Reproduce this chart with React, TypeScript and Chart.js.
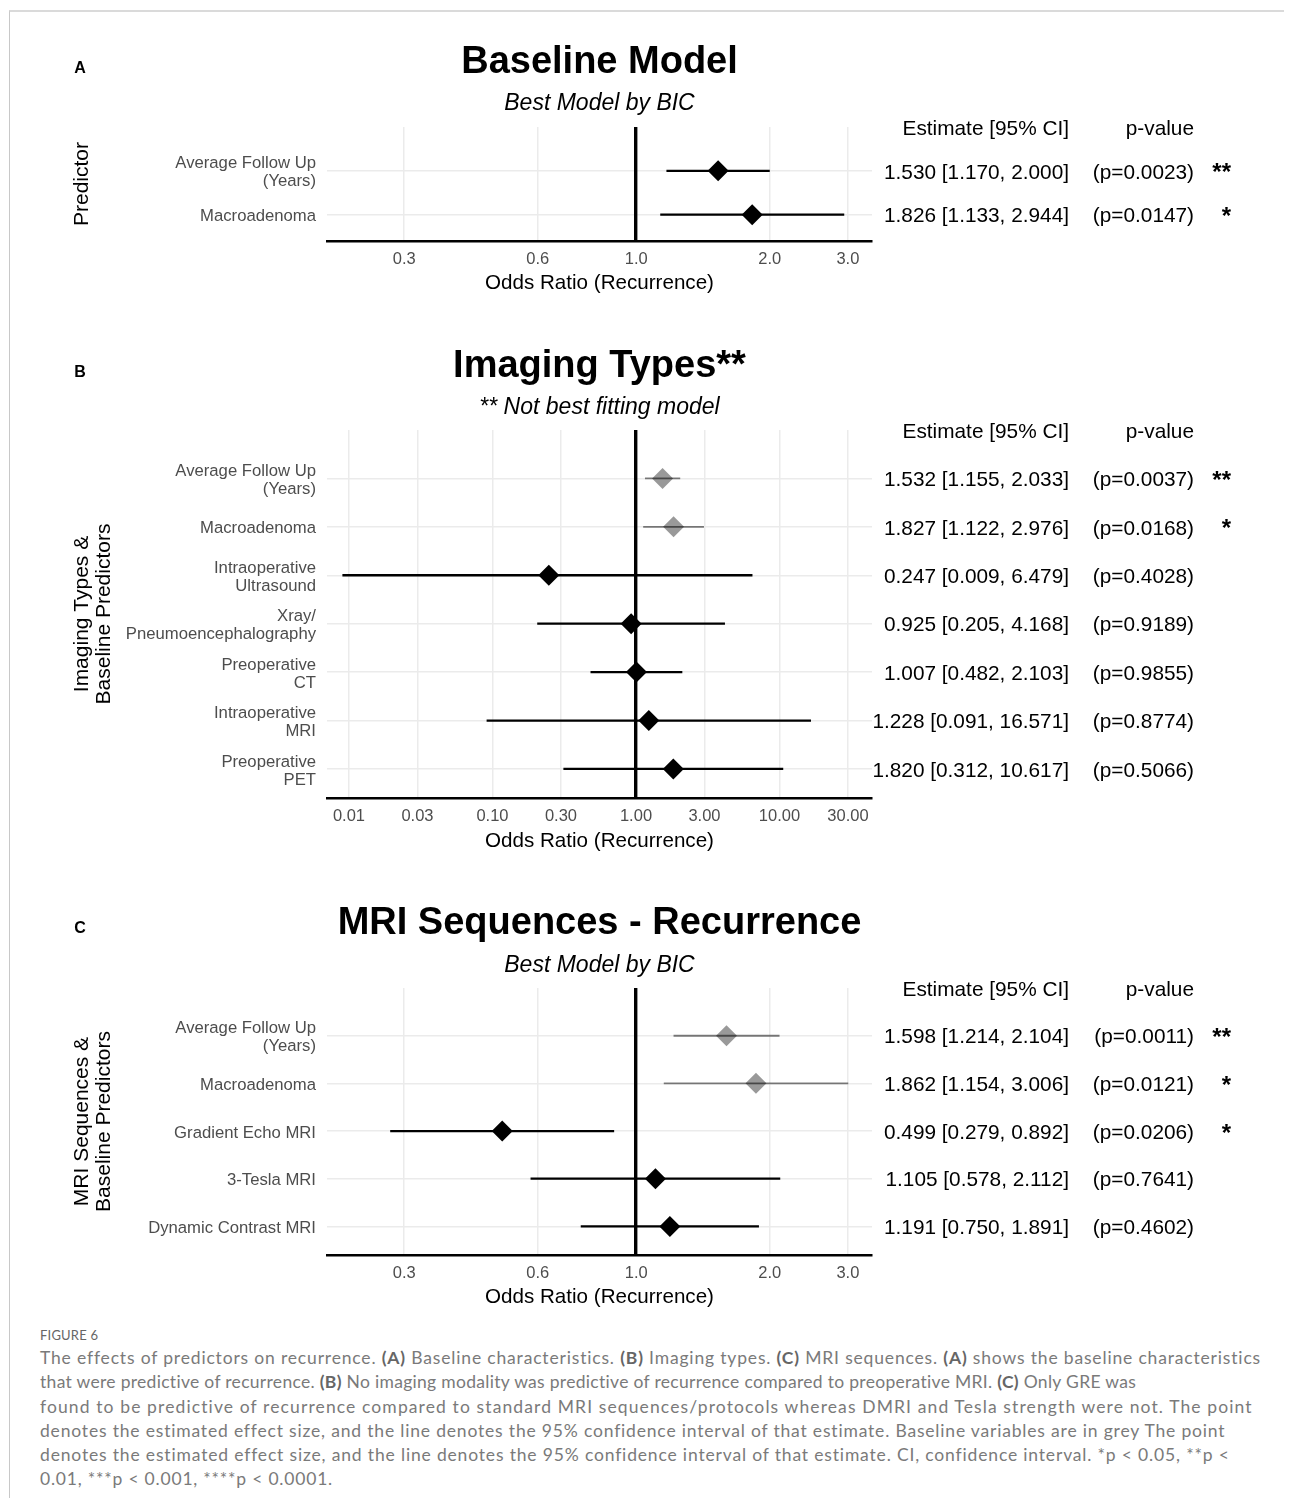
import React, { useEffect, useLayoutEffect, useRef } from "react";
import { Chart, registerables } from "chart.js";

Chart.register(...registerables);

const FONT = "'Liberation Sans', Arial, Helvetica, sans-serif";

// ---------- Panel A : Baseline Model ----------
const predictorsA = ["Average Follow Up\n(Years)", "Macroadenoma"];
const estimateA = [1.53, 1.826];
const lowerA = [1.17, 1.133];
const upperA = [2.0, 2.944];
const pValueA = [0.0023, 0.0147];
const baselineA = [false, false];
const xTicksA = [0.3, 0.6, 1.0, 2.0, 3.0];

// ---------- Panel B : Imaging Types ----------
const predictorsB = [
  "Average Follow Up\n(Years)",
  "Macroadenoma",
  "Intraoperative\nUltrasound",
  "Xray/\nPneumoencephalography",
  "Preoperative\nCT",
  "Intraoperative\nMRI",
  "Preoperative\nPET",
];
const estimateB = [1.532, 1.827, 0.247, 0.925, 1.007, 1.228, 1.82];
const lowerB = [1.155, 1.122, 0.009, 0.205, 0.482, 0.091, 0.312];
const upperB = [2.033, 2.976, 6.479, 4.168, 2.103, 16.571, 10.617];
const pValueB = [0.0037, 0.0168, 0.4028, 0.9189, 0.9855, 0.8774, 0.5066];
const baselineB = [true, true, false, false, false, false, false];
const xTicksB = [0.01, 0.03, 0.1, 0.3, 1, 3, 10, 30];

// ---------- Panel C : MRI Sequences ----------
const predictorsC = [
  "Average Follow Up\n(Years)",
  "Macroadenoma",
  "Gradient Echo MRI",
  "3-Tesla MRI",
  "Dynamic Contrast MRI",
];
const estimateC = [1.598, 1.862, 0.499, 1.105, 1.191];
const lowerC = [1.214, 1.154, 0.279, 0.578, 0.75];
const upperC = [2.104, 3.006, 0.892, 2.112, 1.891];
const pValueC = [0.0011, 0.0121, 0.0206, 0.7641, 0.4602];
const baselineC = [true, true, false, false, false];
const xTicksC = [0.3, 0.6, 1.0, 2.0, 3.0];

const CANVAS_W = 1284; // page x 8 .. 1292
const ORIGIN = 8;

type PanelProps = {
  letter: string;
  title: string;
  subtitle: string;
  yTitle: string | string[];
  predictors: string[];
  estimate: number[];
  lower: number[];
  upper: number[];
  pValue: number[];
  baseline: boolean[];
  xTicks: number[];
  xDecimals: number;
  xMin: number;
  xMax: number;
  // layout, page coordinates
  top: number;
  height: number;
  titleY: number;
  subY: number;
  areaTop: number;
  areaBottom: number;
  xTitleY: number;
  letterY: number;
};

const AREA_LEFT = 327;
const AREA_RIGHT = 872;

function stars(p: number) {
  if (p < 0.0001) return "****";
  if (p < 0.001) return "***";
  if (p < 0.01) return "**";
  if (p < 0.05) return "*";
  return "";
}

function ForestPanel(props: PanelProps) {
  const ref = useRef<HTMLCanvasElement | null>(null);

  useEffect(() => {
    const p = props;
    const n = p.predictors.length;
    const grey = (i: number) => p.baseline[i];

    const ciSets = p.predictors.map((_, i) => ({
      data: [
        { x: p.lower[i], y: i + 1 },
        { x: p.upper[i], y: i + 1 },
      ],
      showLine: true,
      borderColor: grey(i) ? "rgba(0,0,0,0.5)" : "#000000",
      borderWidth: grey(i) ? 1.9 : 2.3,
      pointRadius: 0,
      order: 0,
    }));

    const pointSet = {
      data: p.estimate.map((v, i) => ({ x: v, y: i + 1 })),
      pointStyle: "rectRot",
      pointRadius: 10.5,
      pointBorderWidth: 0,
      pointBackgroundColor: p.estimate.map((_, i) => (grey(i) ? "rgba(0,0,0,0.4)" : "#000000")),
      pointBorderColor: "rgba(0,0,0,0)",
      showLine: false,
      order: 1,
    };

    const titleLH = 38;
    const subLH = 23;
    const xTitleLH = 20.6 * 1.2;
    const xAxisH = p.top + p.height - p.areaBottom;
    const TXT = 2; // canvas "middle" sits a little above the cap centre

    const tablePlugin = {
      id: "tableText",
      afterDraw(chart: any) {
        const ctx = chart.ctx;
        const ys = chart.scales.y;
        const xEst = 1069 - ORIGIN;
        const xP = 1194 - ORIGIN;
        const xS = 1231 - ORIGIN;
        ctx.save();
        ctx.fillStyle = "#000";
        ctx.textAlign = "right";
        ctx.textBaseline = "middle";
        ctx.font = `20.8px ${FONT}`;
        const hy = chart.chartArea.top + 0.5 + TXT;
        ctx.fillText("Estimate [95% CI]", xEst, hy);
        ctx.fillText("p-value", xP, hy);
        for (let i = 0; i < n; i++) {
          const y = ys.getPixelForValue(i + 1) + TXT;
          ctx.font = `20.8px ${FONT}`;
          const est = `${p.estimate[i].toFixed(3)} [${p.lower[i].toFixed(3)}, ${p.upper[i].toFixed(3)}]`;
          ctx.fillText(est, xEst, y);
          ctx.fillText(`(p=${p.pValue[i].toFixed(4)})`, xP, y);
          const s = stars(p.pValue[i]);
          if (s) {
            ctx.font = `bold 24px ${FONT}`;
            ctx.fillText(s, xS, y + 1);
          }
        }
        // panel letter
        ctx.textAlign = "center";
        ctx.font = `bold 16px ${FONT}`;
        ctx.fillText(p.letter, 80 - ORIGIN, p.letterY - p.top + TXT);
        ctx.restore();
      },
    };

    const cfg: any = {
      type: "scatter",
      data: { datasets: [...ciSets, pointSet] },
      options: {
        animation: false,
        responsive: false,
        devicePixelRatio: 1,
        events: [],
        layout: {
          autoPadding: false,
          padding: { left: 0, top: 0, bottom: 0, right: CANVAS_W - (AREA_RIGHT - ORIGIN) },
        },
        plugins: {
          legend: { display: false },
          tooltip: { enabled: false },
          title: {
            display: true,
            text: p.title,
            fullSize: false,
            color: "#000",
            font: { family: FONT, size: 38, weight: "bold", lineHeight: 1 },
            padding: { top: p.titleY - p.top - titleLH / 2 + 3, bottom: 0 },
          },
          subtitle: {
            display: true,
            text: p.subtitle,
            fullSize: false,
            color: "#000",
            font: { family: FONT, size: 23, style: "italic", lineHeight: 1 },
            padding: {
              top: p.subY - p.titleY - titleLH / 2 - subLH / 2 - 1,
              bottom: p.areaTop - p.subY - subLH / 2 - 2,
            },
          },
        },
        scales: {
          x: {
            type: "logarithmic",
            position: "bottom",
            min: p.xMin,
            max: p.xMax,
            afterBuildTicks: (s: any) => {
              s.ticks = p.xTicks.map((v) => ({ value: v }));
            },
            afterFit: (s: any) => {
              s.height = xAxisH;
            },
            ticks: {
              autoSkip: false,
              maxRotation: 0,
              minRotation: 0,
              padding: 9,
              color: "#4d4d4d",
              font: { family: FONT, size: 16.5, lineHeight: 1.2 },
              callback: (v: any) => Number(v).toFixed(p.xDecimals),
            },
            grid: {
              drawTicks: false,
              z: -1,
              color: (c: any) => (c.tick && c.tick.value === 1 ? "#000000" : "#ebebeb"),
              lineWidth: (c: any) => (c.tick && c.tick.value === 1 ? 3.4 : 1.5),
            },
            border: { display: true, color: "#000", width: 2.4 },
            title: {
              display: true,
              text: "Odds Ratio (Recurrence)",
              color: "#000",
              font: { family: FONT, size: 20.6, lineHeight: 1.2 },
              padding: { top: 0, bottom: p.top + p.height - xTitleLH / 2 - p.xTitleY - 1.5 },
            },
          },
          y: {
            type: "linear",
            position: "left",
            reverse: true,
            min: 0,
            max: n + 0.6,
            afterBuildTicks: (s: any) => {
              s.ticks = p.predictors.map((_, i) => ({ value: i + 1 }));
            },
            afterFit: (s: any) => {
              s.width = AREA_LEFT - ORIGIN;
            },
            ticks: {
              autoSkip: false,
              padding: 11,
              labelOffset: 2,
              color: "#4d4d4d",
              font: { family: FONT, size: 16.7, lineHeight: 1.08 },
              callback: (v: any) => {
                const lab = p.predictors[Math.round(Number(v)) - 1];
                return lab ? lab.split("\n") : "";
              },
            },
            grid: { drawTicks: false, z: -2, color: "#ebebeb", lineWidth: 1.5 },
            border: { display: false },
            title: {
              display: true,
              text: p.yTitle,
              color: "#000",
              font: { family: FONT, size: 21, lineHeight: 1.05 },
              padding: { top: 81 - ORIGIN - 11.025 + 1, bottom: 0 },
            },
          },
        },
      },
      plugins: [tablePlugin],
    };

    const chart = new Chart(ref.current as HTMLCanvasElement, cfg);
    return () => chart.destroy();
  }, []);

  return (
    <canvas
      ref={ref}
      width={CANVAS_W}
      height={props.height}
      style={{ position: "absolute", left: 0, top: props.top - ORIGIN, width: CANVAS_W, height: props.height }}
    />
  );
}

const bold = { fontWeight: 700, color: "#666" } as const;

// One caption line, spread by letter-spacing to the width it has in the figure.
function CaptionLine({ target, children }: { target: number; children: React.ReactNode }) {
  const ref = useRef<HTMLSpanElement | null>(null);
  useLayoutEffect(() => {
    const el = ref.current;
    if (!el) return;
    el.style.letterSpacing = "0px";
    const w = el.getBoundingClientRect().width;
    const chars = (el.textContent || "").length;
    if (chars > 1) el.style.letterSpacing = `${(target - w) / chars}px`;
  }, [target]);
  return (
    <div>
      <span ref={ref} style={{ display: "inline-block", whiteSpace: "nowrap" }}>
        {children}
      </span>
    </div>
  );
}

export default function App() {
  return (
    <div style={{ position: "relative", width: CANVAS_W, height: 1490, overflow: "hidden", background: "#fff" }}>
      <div
        style={{
          position: "absolute",
          left: 1,
          top: 2,
          width: CANVAS_W + 20,
          height: 1600,
          borderTop: "2px solid #dadada",
          borderLeft: "1px solid #c8c8c8",
        }}
      />
      <ForestPanel
        letter="A"
        title="Baseline Model"
        subtitle="Best Model by BIC"
        yTitle="Predictor"
        predictors={predictorsA}
        estimate={estimateA}
        lower={lowerA}
        upper={upperA}
        pValue={pValueA}
        baseline={baselineA}
        xTicks={xTicksA}
        xDecimals={1}
        xMin={0.201}
        xMax={3.4}
        top={30}
        height={280}
        titleY={60}
        subY={102}
        areaTop={127}
        areaBottom={241}
        xTitleY={282}
        letterY={67}
      />
      <ForestPanel
        letter="B"
        title="Imaging Types**"
        subtitle="** Not best fitting model"
        yTitle={["Imaging Types &", "Baseline Predictors"]}
        predictors={predictorsB}
        estimate={estimateB}
        lower={lowerB}
        upper={upperB}
        pValue={pValueB}
        baseline={baselineB}
        xTicks={xTicksB}
        xDecimals={2}
        xMin={0.00703}
        xMax={44.1}
        top={320}
        height={540}
        titleY={364}
        subY={406}
        areaTop={430}
        areaBottom={798}
        xTitleY={840}
        letterY={371}
      />
      <ForestPanel
        letter="C"
        title="MRI Sequences - Recurrence"
        subtitle="Best Model by BIC"
        yTitle={["MRI Sequences &", "Baseline Predictors"]}
        predictors={predictorsC}
        estimate={estimateC}
        lower={lowerC}
        upper={upperC}
        pValue={pValueC}
        baseline={baselineC}
        xTicks={xTicksC}
        xDecimals={1}
        xMin={0.201}
        xMax={3.4}
        top={875}
        height={440}
        titleY={921}
        subY={964}
        areaTop={988}
        areaBottom={1255}
        xTitleY={1296}
        letterY={927}
      />
      <div
        style={{
          position: "absolute",
          left: 32,
          top: 1319,
          fontFamily: "Lato, 'Open Sans', sans-serif",
          fontSize: 13,
          lineHeight: "16px",
          color: "#666",
          letterSpacing: 0.2,
        }}
      >
        FIGURE 6
      </div>
      <div
        style={{
          position: "absolute",
          left: 32,
          top: 1338,
          fontFamily: "Lato, 'Open Sans', sans-serif",
          fontSize: 17.5,
          lineHeight: "24.3px",
          color: "#7a7a7a",
        }}
      >
        <CaptionLine target={1221}>
          The effects of predictors on recurrence. <span style={bold}>(A)</span> Baseline characteristics.{" "}
          <span style={bold}>(B)</span> Imaging types. <span style={bold}>(C)</span> MRI sequences.{" "}
          <span style={bold}>(A)</span> shows the baseline characteristics
        </CaptionLine>
        <CaptionLine target={1097}>
          that were predictive of recurrence. <span style={bold}>(B)</span> No imaging modality was predictive of
          recurrence compared to preoperative MRI. <span style={bold}>(C)</span> Only GRE was
        </CaptionLine>
        <CaptionLine target={1213}>
          found to be predictive of recurrence compared to standard MRI sequences/protocols whereas DMRI and Tesla
          strength were not. The point
        </CaptionLine>
        <CaptionLine target={1185}>
          denotes the estimated effect size, and the line denotes the 95% confidence interval of that estimate.
          Baseline variables are in grey The point
        </CaptionLine>
        <CaptionLine target={1189}>
          denotes the estimated effect size, and the line denotes the 95% confidence interval of that estimate. CI,
          confidence interval. *p &lt; 0.05, **p &lt;
        </CaptionLine>
        <CaptionLine target={293}>0.01, ***p &lt; 0.001, ****p &lt; 0.0001.</CaptionLine>
      </div>
    </div>
  );
}
